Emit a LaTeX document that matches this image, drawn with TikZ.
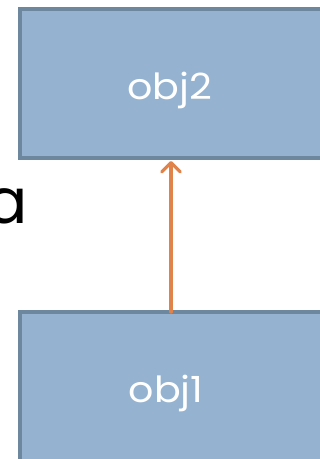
\documentclass[tikz,border=0pt]{standalone}
\usepackage{fontspec}
\setmainfont{Poppins}
\usetikzlibrary{arrows.meta}
\definecolor{boxfill}{HTML}{95B3D0}
\definecolor{boxline}{HTML}{6D889E}
\definecolor{linkline}{HTML}{E0834A}
\begin{document}
\begin{tikzpicture}[x=0.75pt,y=0.75pt,
  objbox/.style={draw=boxline, fill=boxfill, line width=3pt, inner sep=0pt,
    minimum width=320*0.75pt, rectangle},
  objlabel/.style={text=white, font=\fontsize{27}{32}\selectfont, inner sep=0pt,
    anchor=base, xscale=1.1},
  link/.style={draw=linkline, line width=2.4pt, line cap=round,
    -{Straight Barb[length=7pt, width=14pt, line cap=round, line join=round]}}]
  \useasboundingbox (0,0) rectangle (320,459);
  \begin{scope}
    \clip (0,0) rectangle (320,459);
    % the two object boxes, running past the right edge
    \node[objbox, minimum height=149*0.75pt] (top) at (180,375.5) {};
    \node[objbox, minimum height=168*0.75pt] (bottom) at (180,63) {};
    \node[objlabel] (toplabel) at (170,359) {obj2};
    \node[objlabel] (bottomlabel) at (166,56) {obj1};
    % partially visible letter on the left
    \node[font=\fontsize{47}{50}\selectfont, inner sep=0pt, anchor=base east] (side) at (28,235) {a};
    % reference from obj1 up to obj2
    \coordinate (linkstart) at (171,147);
    \coordinate (linkend) at (171,298);
    \draw[link] (linkstart) -- (linkend);
  \end{scope}
\end{tikzpicture}
\end{document}
